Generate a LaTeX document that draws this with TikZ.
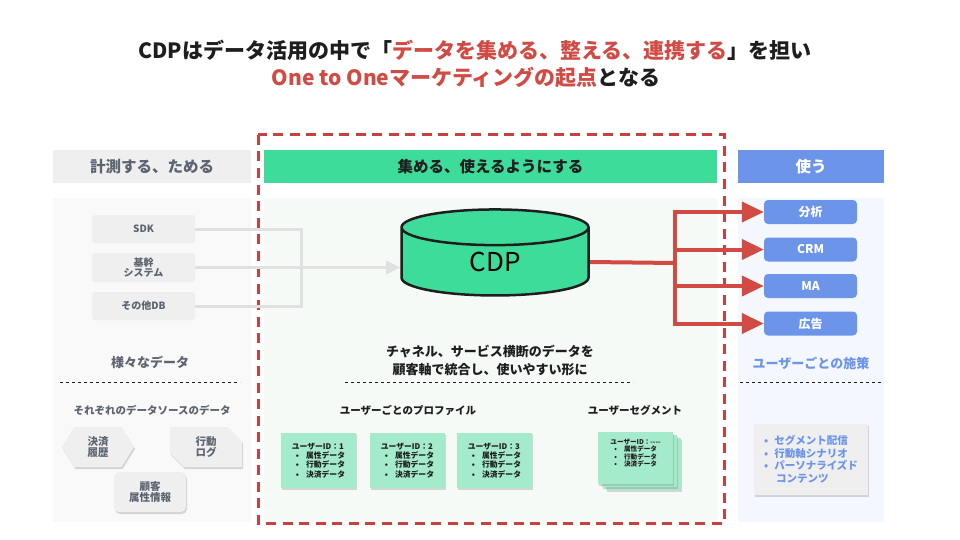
\documentclass[tikz,border=0pt]{standalone}
\usepackage{fontspec}
\setmainfont{Noto Sans CJK JP}
\usetikzlibrary{arrows.meta,positioning,shapes.geometric,shapes.misc,shapes.symbols,shadows}
\definecolor{ink}{HTML}{1E1E1E}
\definecolor{accent}{HTML}{D14A43}
\definecolor{frame}{HTML}{C9403E}
\definecolor{cdpgreen}{HTML}{3DDC9B}
\definecolor{mint}{HTML}{A3EBCB}
\definecolor{useblue}{HTML}{6C94E9}
\definecolor{greytxt}{HTML}{5D6470}
\definecolor{greybox}{HTML}{EFEFEF}
\definecolor{greybg}{HTML}{F9F9F9}
\definecolor{greenbg}{HTML}{F5FAF7}
\definecolor{bluebg}{HTML}{F4F8FE}
\definecolor{linegrey}{HTML}{E0E0E0}
\newcommand\fs[1]{\fontsize{#1}{#1}\selectfont}

\begin{document}
\begin{tikzpicture}[x=1pt,y=-1pt,
  hdr/.style={minimum height=33pt,inner sep=0pt,font=\fs{15.5}\bfseries},
  src/.style={rounded corners=3pt,fill=greybox,text=greytxt,minimum width=103pt,
              align=center,inner sep=0pt,font=\fs{10}\bfseries},
  kind/.style={fill=greybox,text=greytxt,minimum width=72pt,minimum height=40pt,
               align=center,inner sep=0pt,font=\fs{10.5}\bfseries,
               drop shadow={opacity=0.3,shadow xshift=1pt,shadow yshift=-2pt}},
  card/.style={fill=mint,text=ink,minimum width=75pt,minimum height=55pt,align=left,
               inner sep=0pt,font=\fs{7.8}\bfseries,
               drop shadow={opacity=0.3,shadow xshift=1pt,shadow yshift=-2pt}},
  use/.style={rounded corners=4pt,fill=useblue,text=white,minimum width=93pt,
              minimum height=24pt,inner sep=0pt,font=\fs{12}\bfseries},
  srcline/.style={draw=linegrey,line width=3pt},
  redline/.style={draw=accent,line width=4pt},
  sep/.style={draw=ink,dash pattern=on 3pt off 3pt,line width=0.8pt}]
\useasboundingbox (0,0) rectangle (960,540);

% title
\node[font=\fs{21}\bfseries,text=ink] (t1) at (475,50)
  {CDPはデータ活用の中で「\textcolor{accent}{データを集める、整える、連携する}」を担い};
\node[font=\fs{21}\bfseries,text=ink] (t2) at (466,77)
  {\textcolor{accent}{One to Oneマーケティングの起点}となる};

% columns
\fill[greybg] (53,198) rectangle (251,522);
\fill[greenbg] (264,198) rectangle (717,522);
\fill[bluebg] (738,198) rectangle (884,522);
\draw[frame,line width=3pt,dash pattern=on 10pt off 6.5pt] (258,135) rectangle (724,523);

\node[hdr,fill=greybox,text=greytxt,minimum width=198pt] (lhd) at (152,166.5) {計測する、ためる};
\node[hdr,fill=cdpgreen,text=ink,minimum width=453pt] (mhd) at (490.5,166.5) {集める、使えるようにする};
\node[hdr,fill=useblue,text=white,minimum width=146pt] (rhd) at (811,166.5) {使う};

% sources
\node[src,minimum height=28pt] (sdk) at (143.5,229) {SDK};
\node[src,minimum height=29pt] (kik) at (143.5,267.5) {基幹\\システム};
\node[src,minimum height=28pt] (oth) at (143.5,306) {その他DB};

\node[font=\fs{13}\bfseries,text=greytxt] (var) at (150,362) {様々なデータ};
\draw[sep] (60,382) -- (240,382);
\node[font=\fs{10.5}\bfseries,text=greytxt] (each) at (152,410) {それぞれのデータソースのデータ};
\node[kind,signal,signal to=west and east,signal pointer angle=116] (pay) at (98,447) {決済\\履歴};
\node[kind,chamfered rectangle,chamfered rectangle corners={north east,south west},
      chamfered rectangle xsep=7pt,chamfered rectangle ysep=7pt] (act) at (206,447) {行動\\ログ};
\node[kind,rounded corners=5pt] (cus) at (150,492) {顧客\\属性情報};

% cdp
\node[cylinder,shape border rotate=90,aspect=0.7,draw=ink,line width=2.5pt,fill=cdpgreen,
      minimum width=187pt,minimum height=86pt,inner sep=0pt,font=\fs{26}] (cdp) at (495,262)
  {\raisebox{-9pt}{CDP}};

\coordinate (jn) at (301,267.5);
\draw[srcline] (sdk.east) -| (jn);
\draw[srcline] (oth.east) -| (jn);
\draw[srcline,-{Triangle[length=14pt,width=13pt]}] (kik.east) -- (kik.east -| cdp.west);

\node[font=\fs{13}\bfseries,text=ink,align=center] (msg) at (490,360)
  {チャネル、サービス横断のデータを\\[5pt]顧客軸で統合し、使いやすい形に};
\draw[sep] (345,382) -- (633,382);
\node[font=\fs{10.5}\bfseries,text=ink] (prof) at (408,410) {ユーザーごとのプロファイル};
\node[font=\fs{10.5}\bfseries,text=ink] (segt) at (635,410) {ユーザーセグメント};

\foreach \x/\n in {318.5/1,407.5/2,494.5/3}
  \node[card] (p\n) at (\x,460.5)
    {ユーザーID：\n\\[1.5pt]\hspace*{4pt}•\hspace{7pt}属性データ\\[1.5pt]
     \hspace*{4pt}•\hspace{7pt}行動データ\\[1.5pt]\hspace*{4pt}•\hspace{7pt}決済データ};

\node[card,minimum height=52pt] (s3) at (643.5,464) {};
\node[card,minimum height=52pt] (s2) at (639.5,461) {};
\node[card,minimum height=52pt,font=\fs{6.6}\bfseries] (s1) at (635.5,458)
  {ユーザーID：{-}{-}{-}{-}\\[0.6pt]\hspace*{4pt}•\hspace{7pt}属性データ\\[0.6pt]
   \hspace*{4pt}•\hspace{7pt}行動データ\\[0.6pt]\hspace*{4pt}•\hspace{7pt}決済データ\\[4pt]\mbox{}};

% use
\node[use] (ana) at (810.5,212) {分析};
\node[use] (crm) at (810.5,249.5) {CRM};
\node[use] (ma)  at (810.5,286) {MA};
\node[use] (ad)  at (810.5,323.5) {広告};

\coordinate (fork) at (675,263);
\draw[redline] (cdp.east) -- (fork);
\foreach \b in {ana,crm,ma,ad}
  \draw[redline,-{Triangle[length=22pt,width=20pt]}] (fork) |- (\b.west);

\node[font=\fs{13}\bfseries,text=useblue] (per) at (811,363) {ユーザーごとの施策};
\draw[sep] (740,382) -- (882,382);
\node[fill=greybox,text=useblue,minimum width=114pt,minimum height=71pt,align=left,
      inner sep=0pt,font=\fs{10.5}\bfseries,
      drop shadow={opacity=0.3,shadow xshift=1pt,shadow yshift=-2pt}] (act2) at (811,459.5)
  {•\hspace{6pt}セグメント配信\\[2pt]•\hspace{6pt}行動軸シナリオ\\[2pt]
   •\hspace{6pt}パーソナライズド\\[2pt]\hspace*{12pt}コンテンツ};
\end{tikzpicture}
\end{document}
